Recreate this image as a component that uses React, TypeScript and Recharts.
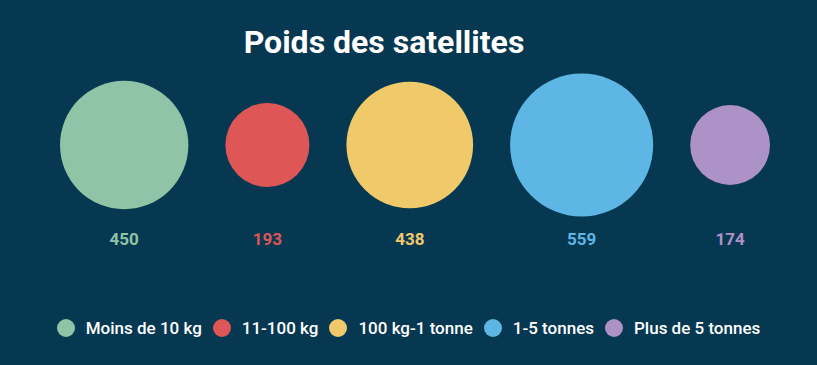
import { ScatterChart, Scatter, XAxis, YAxis, ZAxis, Legend } from "recharts";

const categories = ["Moins de 10 kg", "11-100 kg", "100 kg-1 tonne", "1-5 tonnes", "Plus de 5 tonnes"];
const weights = [450, 193, 438, 559, 174];
const colors = ["#8fc4a7", "#de5656", "#f0ca6a", "#5eb6e5", "#ad92c8"];

const W = 817;
const H = 365;
const BG = "#073851";
const FONT = "Roboto, 'Noto Sans', sans-serif";
const LEFT = 60;
const RIGHT = 47;
const GAP_PX = 37;
const LEGEND_H = 24;
const PLOT_BOTTOM = 290;

// bubbles sit side by side, area proportional to the value
const plotWidth = W - LEFT - RIGHT;
const roots = weights.map((v) => Math.sqrt(v));
const sumDiam = roots.reduce((a, b) => a + 2 * b, 0);
const k = (plotWidth - GAP_PX * (weights.length - 1)) / sumDiam;
const gapUnits = GAP_PX / k;
let cursor = 0;
const centers = roots.map((r) => {
  const c = cursor + r;
  cursor += 2 * r + gapUnits;
  return c;
});
const total = cursor - gapUnits;
const maxW = Math.max(...weights);
const maxArea = Math.PI * k * k * maxW;

const data = categories.map((name, i) => ({
  name,
  x: centers[i],
  y: 0.5,
  z: weights[i],
  color: colors[i],
}));

const Bubble = (props: any) => {
  const { cx, cy, size, payload } = props;
  const r = Math.sqrt(size / Math.PI);
  return (
    <g>
      <circle cx={cx} cy={cy} r={r} fill={payload.color} />
      <text
        x={cx}
        y={cy + 100}
        textAnchor="middle"
        fill={payload.color}
        fontFamily={FONT}
        fontWeight={700}
        fontSize={17}
      >
        {payload.z}
      </text>
    </g>
  );
};

const LegendBox = () => (
  <div
    style={{
      display: "flex",
      justifyContent: "center",
      alignItems: "center",
      height: LEGEND_H,
      fontFamily: FONT,
      fontWeight: 500,
      fontSize: 17,
      color: "#ffffff",
    }}
  >
    {categories.map((c, i) => (
      <div key={c} style={{ display: "flex", alignItems: "center", marginRight: i < categories.length - 1 ? 11 : 0 }}>
        <span
          style={{
            width: 18,
            height: 18,
            borderRadius: 9,
            background: colors[i],
            display: "inline-block",
            marginRight: 11,
          }}
        />
        <span>{c}</span>
      </div>
    ))}
  </div>
);

export default function App() {
  return (
    <div style={{ position: "absolute", left: 0, top: 0, width: W, height: H, background: BG }}>
      <div
        style={{
          position: "absolute",
          left: 0,
          top: 24,
          width: 768,
          textAlign: "center",
          color: "#ffffff",
          fontFamily: FONT,
          fontWeight: 700,
          fontSize: 32,
          lineHeight: "36px",
        }}
      >
        Poids des satellites
      </div>
      <ScatterChart
        width={W}
        height={H}
        margin={{ top: 0, left: LEFT, right: RIGHT, bottom: H - PLOT_BOTTOM - LEGEND_H }}
      >
        <XAxis type="number" dataKey="x" domain={[0, total]} hide />
        <YAxis type="number" dataKey="y" domain={[0, 1]} hide />
        <ZAxis type="number" dataKey="z" domain={[0, maxW]} range={[0, maxArea]} />
        <Legend
          content={<LegendBox />}
          wrapperStyle={{ position: "absolute", top: 316, left: 0, width: W, height: LEGEND_H }}
        />
        <Scatter data={data} shape={<Bubble />} isAnimationActive={false} />
      </ScatterChart>
    </div>
  );
}
